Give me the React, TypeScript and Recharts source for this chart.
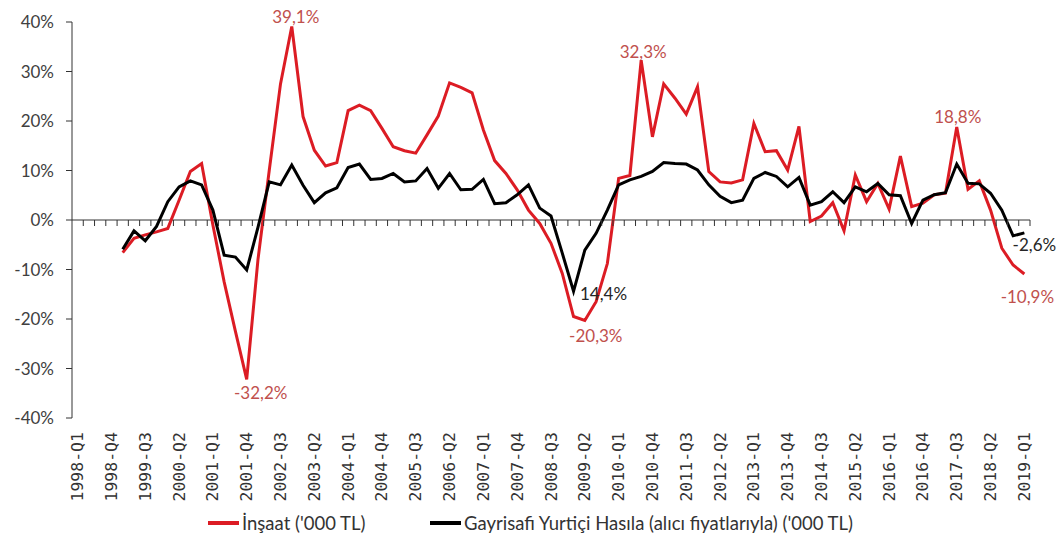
import React from 'react';
import { LineChart, Line, XAxis, YAxis, ReferenceLine, LabelList } from 'recharts';

// quarters 1998-Q1 .. 2019-Q1
const categories: string[] = [];
for (let y = 1998; y <= 2019; y++) {
  for (let q = 1; q <= 4; q++) {
    if (y === 2019 && q > 1) break;
    categories.push(`${y}-Q${q}`);
  }
}

// annual growth, %
const insaat: (number | null)[] = [
  null, null, null, null,
  -6.6, -3.7, -3.0, -2.4, -1.7, 4.0, 9.8, 11.4, -1.0, -12.5, -22.5, -32.2,
  -8.0, 10.0, 27.5, 39.1, 20.9, 14.1, 10.9, 11.6, 22.1, 23.2, 22.1, 18.5,
  14.8, 14.0, 13.5, 17.2, 21.0, 27.7, 26.8, 25.7, 18.2, 12.0, 9.4, 6.1,
  2.0, -0.7, -4.7, -10.8, -19.5, -20.3, -16.5, -8.8, 8.4, 9.0, 32.3, 16.8,
  27.5, 24.6, 21.4, 26.9, 9.8, 7.7, 7.5, 8.1, 19.5, 13.8, 14.0, 10.1,
  18.9, -0.3, 0.8, 3.5, -2.2, 9.1, 3.7, 7.4, 2.2, 12.9, 2.7, 3.4,
  5.1, 5.4, 18.8, 6.2, 7.9, 2.0, -5.7, -9.1, -10.9,
];

const gsyh: (number | null)[] = [
  null, null, null, null,
  -5.9, -2.2, -4.2, -1.3, 3.7, 6.7, 7.9, 7.1, 2.0, -7.1, -7.5, -10.1,
  -1.5, 7.7, 7.1, 11.1, 7.0, 3.5, 5.5, 6.5, 10.6, 11.3, 8.2, 8.4,
  9.4, 7.7, 7.9, 10.4, 6.4, 9.4, 6.1, 6.2, 8.2, 3.3, 3.5, 5.1,
  7.1, 2.4, 0.8, -6.7, -14.4, -6.1, -2.7, 2.0, 7.1, 8.1, 8.8, 9.8,
  11.6, 11.4, 11.3, 10.1, 7.1, 4.8, 3.5, 4.0, 8.4, 9.6, 8.8, 6.7,
  8.6, 3.0, 3.7, 5.7, 3.5, 6.7, 5.7, 7.4, 5.1, 4.9, -0.7, 4.0,
  5.1, 5.5, 11.3, 7.4, 7.3, 5.4, 2.0, -3.2, -2.6,
];

const yTicks = [-40, -30, -20, -10, 0, 10, 20, 30, 40];

// which points carry a data label
const insaatLabels: Record<number, { text: string; dx: number; dy: number }> = {
  15: { text: '-32,2%', dx: 14, dy: 13 },
  19: { text: '39,1%', dx: 4, dy: -10 },
  45: { text: '-20,3%', dx: 11, dy: 15 },
  50: { text: '32,3%', dx: 2, dy: -9 },
  78: { text: '18,8%', dx: 1, dy: -10 },
  84: { text: '-10,9%', dx: 3, dy: 23 },
};
const gsyhLabels: Record<number, { text: string; dx: number; dy: number }> = {
  44: { text: '14,4%', dx: 30, dy: 2 },
  84: { text: '-2,6%', dx: 10, dy: 12 },
};

const W = 1058;
const H = 547;
const LEFT = 72;
const RIGHT = 28;
const TOP = 22;
const BOTTOM = 129;
const PLOT_W = W - LEFT - RIGHT;
const BAND = PLOT_W / categories.length;
const ZERO_Y = TOP + (H - TOP - BOTTOM) / 2;

const RED = '#dc1c24';
const RED_TXT = '#c0504d';
const FONT = 'Lato, "Open Sans", sans-serif';

const data = categories.map((q, i) => ({ q, insaat: insaat[i], gsyh: gsyh[i] }));

const QuarterTick = (props: any) => {
  const { x, y, index, payload } = props;
  const tx = x + BAND / 2;
  return (
    <g>
      <line x1={tx} x2={tx} y1={ZERO_Y} y2={ZERO_Y + 6} stroke="#333" strokeWidth={1} />
      {index % 3 === 0 && (
        <text
          x={x}
          y={y}
          transform={`rotate(-90, ${x}, ${y})`}
          textAnchor="end"
          dominantBaseline="central"
          fontFamily='"DejaVu Sans Mono", monospace'
          fontSize={16.5}
          fill="#333"
        >
          {payload.value}
        </text>
      )}
    </g>
  );
};

const makeLabel = (map: Record<number, { text: string; dx: number; dy: number }>, color: string) =>
  (props: any) => {
    const { x, y, index } = props;
    const l = map[index];
    if (!l) return null;
    return (
      <text
        x={x + l.dx}
        y={y + l.dy}
        textAnchor="middle"
        dominantBaseline="central"
        fontFamily={FONT}
        fontSize={17}
        fill={color}
      >
        {l.text}
      </text>
    );
  };

const LegendItem = ({ color, label, left }: { color: string; label: string; left: number }) => (
  <div style={{ position: 'absolute', left, top: 0, display: 'flex', alignItems: 'center', gap: 3 }}>
    <span style={{ display: 'inline-block', width: 31, height: 4, background: color }} />
    <span>{label}</span>
  </div>
);

export default function App() {
  return (
    <div style={{ position: 'absolute', left: 0, top: 0, width: W, height: H, background: '#fff' }}>
      <LineChart width={W} height={H} data={data} margin={{ top: TOP, right: RIGHT, left: 0, bottom: 0 }}>
        <XAxis
          dataKey="q"
          interval={0}
          height={BOTTOM}
          axisLine={false}
          tickLine={false}
          tickSize={0}
          tickMargin={14}
          padding={{ left: BAND / 2, right: BAND / 2 }}
          tick={<QuarterTick />}
        />
        <YAxis
          width={LEFT}
          domain={[-40, 40]}
          ticks={yTicks}
          interval={0}
          tickFormatter={(v: number) => `${v}%`}
          axisLine={{ stroke: '#333' }}
          tickLine={{ stroke: '#333' }}
          tickSize={6}
          tickMargin={12}
          tick={{ fontFamily: FONT, fontSize: 17, fill: '#404040' }}
        />
        <ReferenceLine y={0} stroke="#333" strokeWidth={1} />
        <Line
          type="linear"
          dataKey="insaat"
          stroke={RED}
          strokeWidth={3}
          dot={false}
          isAnimationActive={false}
          connectNulls={false}
        >
          <LabelList dataKey="insaat" content={makeLabel(insaatLabels, RED_TXT)} />
        </Line>
        <Line
          type="linear"
          dataKey="gsyh"
          stroke="#000"
          strokeWidth={3}
          dot={false}
          isAnimationActive={false}
        >
          <LabelList dataKey="gsyh" content={makeLabel(gsyhLabels, '#262626')} />
        </Line>
      </LineChart>
      <div
        style={{
          position: 'absolute',
          top: 512,
          left: 0,
          width: W,
          height: 26,
          fontFamily: FONT,
          fontSize: 18.5,
          color: '#333',
          whiteSpace: 'nowrap',
        }}
      >
        <LegendItem color={RED} label="İnşaat ('000 TL)" left={208} />
        <LegendItem color="#000" label="Gayrisafi Yurtiçi Hasıla (alıcı fiyatlarıyla) ('000 TL)" left={430} />
      </div>
    </div>
  );
}
